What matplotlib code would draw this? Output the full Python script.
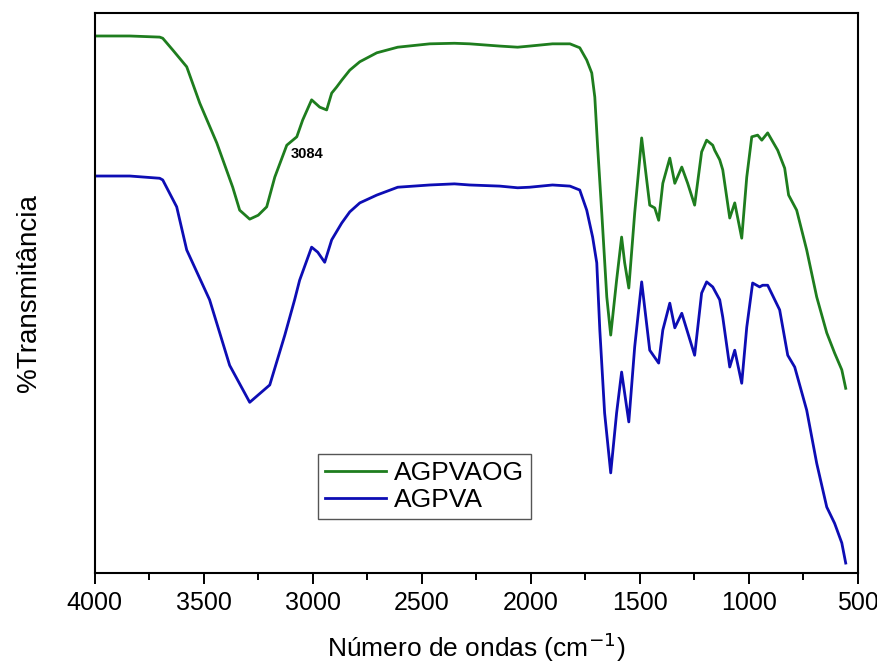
import numpy as np
import matplotlib
matplotlib.use("Agg")
from matplotlib import pyplot as plt
from matplotlib.ticker import MultipleLocator

plt.rcParams['font.family'] = ['Liberation Sans', 'DejaVu Sans']

# FTIR spectra (wavenumber in cm-1, transmittance in arbitrary %)
wn_agpvaog = [4000, 3839, 3702, 3688, 3642, 3578, 3518, 3440, 3367, 3335, 3289, 3250,
              3211, 3174, 3119, 3073, 3046, 3005, 2968, 2936, 2913, 2890, 2867, 2830,
              2784, 2706, 2610, 2463, 2350, 2280, 2142, 2060, 2005, 1900, 1820, 1775,
              1743, 1720, 1706, 1693, 1674, 1651, 1633, 1606, 1583, 1569, 1550, 1523,
              1491, 1468, 1454, 1431, 1413, 1394, 1362, 1339, 1307, 1280, 1248, 1216,
              1193, 1165, 1156, 1133, 1119, 1087, 1064, 1032, 1009, 986, 959, 940,
              913, 867, 835, 817, 780, 734, 688, 642, 606, 573, 555]
t_agpvaog = [95.9, 95.9, 95.7, 95.5, 93.4, 90.4, 83.9, 76.8, 68.9, 64.8, 63.2, 63.9,
             65.4, 70.7, 76.4, 77.9, 80.9, 84.5, 83.2, 82.7, 85.7, 86.8, 88.0, 89.8,
             91.3, 92.9, 93.9, 94.5, 94.6, 94.5, 94.1, 93.9, 94.1, 94.5, 94.5, 93.8,
             91.6, 89.3, 85.0, 76.1, 64.3, 49.3, 42.5, 52.3, 60.0, 55.4, 50.9, 64.3,
             77.7, 70.2, 65.7, 65.2, 63.0, 69.6, 74.1, 69.6, 72.5, 69.6, 65.7, 75.2,
             77.3, 76.4, 75.5, 73.8, 72.0, 63.4, 66.1, 59.8, 70.7, 77.9, 78.2, 77.3,
             78.6, 75.5, 72.3, 67.5, 64.8, 57.7, 49.3, 42.9, 39.3, 36.3, 33.0]

wn_agpva = [4000, 3839, 3702, 3688, 3624, 3578, 3473, 3381, 3289, 3197, 3128, 3083,
            3060, 3005, 2977, 2945, 2913, 2867, 2830, 2784, 2706, 2610, 2463, 2350,
            2280, 2142, 2060, 2005, 1900, 1820, 1775, 1743, 1716, 1697, 1683, 1661,
            1633, 1606, 1583, 1550, 1523, 1491, 1454, 1413, 1394, 1362, 1339, 1307,
            1248, 1216, 1193, 1165, 1133, 1119, 1087, 1064, 1032, 1009, 982, 950,
            936, 913, 858, 821, 789, 734, 688, 642, 606, 573, 555]
t_agpva = [70.9, 70.9, 70.5, 70.2, 65.4, 57.7, 48.8, 37.1, 30.5, 33.6, 42.5, 48.8,
           52.3, 58.2, 57.3, 55.5, 59.5, 62.5, 64.5, 66.1, 67.5, 68.9, 69.3, 69.5,
           69.3, 69.1, 68.8, 68.9, 69.3, 69.1, 68.4, 64.8, 60.0, 55.4, 43.4, 28.6,
           17.9, 28.6, 35.9, 27.0, 40.4, 52.0, 39.8, 37.5, 43.4, 48.2, 43.8, 46.4,
           38.9, 50.0, 52.0, 51.1, 48.8, 45.7, 36.8, 39.8, 33.9, 43.9, 51.8, 51.1,
           51.4, 51.4, 47.0, 38.9, 36.8, 29.1, 19.6, 11.8, 8.9, 5.4, 1.8]

label_peak = "3084"
peak_pos = (3100, 76.0)

fig = plt.figure(figsize=(8.77, 6.68), dpi=100)
ax = fig.add_axes([0.108, 0.142, 0.870, 0.8385])

ax.plot(wn_agpvaog, t_agpvaog, color='#1e7d1e', lw=2.0, label='AGPVAOG')
ax.plot(wn_agpva, t_agpva, color='#0d0db4', lw=2.0, label='AGPVA')
ax.text(peak_pos[0], peak_pos[1], label_peak, fontsize=10.5, fontweight='bold',
        ha='left', va='top')

ax.set_xlim(4000, 500)
ax.set_ylim(0, 100)
ax.xaxis.set_major_locator(MultipleLocator(500))
ax.xaxis.set_minor_locator(MultipleLocator(250))
ax.tick_params(axis='x', which='major', direction='out', length=8, width=1.4,
               labelsize=18, pad=5, top=False)
ax.tick_params(axis='x', which='minor', direction='out', length=5, width=1.4, top=False)
ax.set_yticks([])
for sp in ax.spines.values():
    sp.set_linewidth(1.5)

ax.set_xlabel('Número de ondas (cm$^{-1}$)', fontsize=19, labelpad=11)
ax.set_ylabel('%Transmitância', fontsize=20, labelpad=38)

leg = ax.legend(loc='lower left', bbox_to_anchor=(0.292, 0.096), fontsize=19,
                frameon=True, fancybox=False, edgecolor='#555555', framealpha=1,
                handlelength=2.3, handletextpad=0.3, labelspacing=0.1, borderpad=0.28,
                borderaxespad=0)
leg.get_frame().set_linewidth(1.0)

plt.savefig('out.png', dpi=100)
